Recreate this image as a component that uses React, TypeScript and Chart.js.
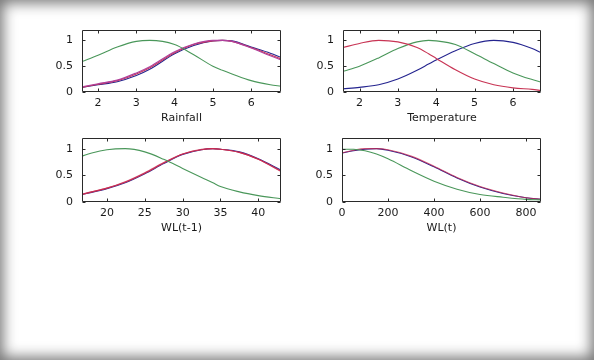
import React, { useEffect, useRef } from "react";
import { Chart, registerables } from "chart.js";

Chart.register(...registerables);

// ---------- data ----------
const rainX = [1.58, 2, 2.5, 3, 3.35, 4, 4.5, 5, 5.25, 5.5, 6, 6.5, 6.78];
const rainGreen = [0.59, 0.71, 0.87, 0.98, 1.0, 0.92, 0.72, 0.5, 0.42, 0.35, 0.22, 0.14, 0.11];
const rainBlue = [0.09, 0.14, 0.2, 0.32, 0.44, 0.74, 0.9, 0.99, 1.0, 0.99, 0.87, 0.75, 0.67];
const rainRed = [0.09, 0.15, 0.22, 0.35, 0.47, 0.76, 0.92, 0.99, 1.0, 0.98, 0.86, 0.72, 0.64];
const rainMagenta = [0.1, 0.16, 0.23, 0.37, 0.49, 0.78, 0.93, 1.0, 1.0, 0.98, 0.85, 0.7, 0.62];

const tempX = [1.57, 2, 2.5, 3, 3.5, 3.8, 4, 4.5, 5, 5.5, 6, 6.5, 6.73];
const tempRed = [0.86, 0.94, 1.0, 0.97, 0.86, 0.74, 0.65, 0.43, 0.25, 0.14, 0.08, 0.05, 0.03];
const tempGreen = [0.4, 0.5, 0.66, 0.84, 0.97, 1.0, 0.99, 0.92, 0.74, 0.55, 0.37, 0.24, 0.19];
const tempBlue = [0.06, 0.09, 0.14, 0.25, 0.42, 0.54, 0.62, 0.8, 0.94, 1.0, 0.96, 0.84, 0.76];

const wlPrevX = [16.7, 18, 20, 22.4, 25, 27.5, 30, 32.5, 34, 35, 37.5, 40, 43];
const wlPrevGreen = [0.86, 0.92, 0.98, 1.0, 0.94, 0.8, 0.63, 0.46, 0.36, 0.29, 0.19, 0.12, 0.06];
const wlPrevBlue = [0.14, 0.18, 0.25, 0.36, 0.53, 0.72, 0.89, 0.98, 1.0, 0.99, 0.94, 0.81, 0.6];
const wlPrevRed = [0.14, 0.19, 0.26, 0.37, 0.54, 0.73, 0.9, 0.98, 1.0, 0.99, 0.93, 0.8, 0.58];
const wlPrevMagenta = [0.15, 0.19, 0.26, 0.38, 0.55, 0.74, 0.9, 0.99, 1.0, 0.99, 0.93, 0.8, 0.57];

const wlX = [0, 50, 100, 150, 200, 300, 400, 500, 600, 700, 800, 865];
const wlGreen = [0.99, 0.99, 0.96, 0.9, 0.81, 0.59, 0.39, 0.24, 0.14, 0.09, 0.05, 0.04];
const wlBlue = [0.92, 0.96, 0.99, 1.0, 0.97, 0.85, 0.66, 0.45, 0.28, 0.16, 0.08, 0.05];
const wlRed = [0.92, 0.97, 1.0, 1.0, 0.98, 0.86, 0.67, 0.46, 0.29, 0.17, 0.08, 0.05];

const yTicks = [0, 0.5, 1];
const rainTicks = [2, 3, 4, 5, 6];
const tempTicks = [2, 3, 4, 5, 6];
const wlPrevTicks = [20, 25, 30, 35, 40];
const wlTicks = [0, 200, 400, 600, 800];

// ---------- styles ----------
const GREEN = "#4a975a";
const BLUE = "#24248f";
const RED = "#c83454";
const MAGENTA = "#b0409c";
const PURPLE_RED = "rgba(200,40,80,0.75)";
const FONT = '"DejaVu Sans", Verdana, sans-serif';

type Series = { color: string; y: number[] };
type Panel = {
  title: string;
  xs: number[];
  series: Series[];
  xMin: number;
  xMax: number;
  ticks: number[];
  left: number;
  top: number;
  w: number;
  h: number;
};

const panels: Panel[] = [
  {
    title: "Rainfall",
    xs: rainX,
    series: [
      { color: GREEN, y: rainGreen },
      { color: MAGENTA, y: rainMagenta },
      { color: RED, y: rainRed },
      { color: BLUE, y: rainBlue },
    ],
    xMin: 1.58,
    xMax: 6.78,
    ticks: rainTicks,
    left: 82,
    top: 30,
    w: 199,
    h: 62,
  },
  {
    title: "Temperature",
    xs: tempX,
    series: [
      { color: RED, y: tempRed },
      { color: GREEN, y: tempGreen },
      { color: BLUE, y: tempBlue },
    ],
    xMin: 1.57,
    xMax: 6.73,
    ticks: tempTicks,
    left: 343,
    top: 30,
    w: 198,
    h: 62,
  },
  {
    title: "WL(t-1)",
    xs: wlPrevX,
    series: [
      { color: GREEN, y: wlPrevGreen },
      { color: PURPLE_RED, y: wlPrevMagenta },
      { color: RED, y: wlPrevRed },
      { color: BLUE, y: wlPrevBlue },
    ],
    xMin: 16.7,
    xMax: 43,
    ticks: wlPrevTicks,
    left: 82,
    top: 138,
    w: 199,
    h: 64,
  },
  {
    title: "WL(t)",
    xs: wlX,
    series: [
      { color: GREEN, y: wlGreen },
      { color: PURPLE_RED, y: wlRed },
      { color: BLUE, y: wlBlue },
    ],
    xMin: 0,
    xMax: 865,
    ticks: wlTicks,
    left: 342,
    top: 138,
    w: 199,
    h: 64,
  },
];

const PAD_TOP = 16;
const PAD_RIGHT = 10;
const Y_W = 40;
const X_H = 33;

const framePlugin = {
  id: "mfFrame",
  afterDraw(chart: any) {
    const { ctx, chartArea: a, scales } = chart;
    const xs = scales.x;
    const ys = scales.y;
    ctx.save();
    ctx.strokeStyle = "#2a2a2a";
    ctx.lineWidth = 1;
    const l = Math.round(a.left) + 0.5;
    const r = Math.round(a.right) - 0.5;
    const t = Math.round(a.top) + 0.5;
    const b = Math.round(a.bottom) - 0.5;
    ctx.beginPath();
    ctx.rect(l, t, r - l, b - t);
    xs.ticks.forEach((tk: any) => {
      const px = Math.round(xs.getPixelForValue(tk.value)) + 0.5;
      ctx.moveTo(px, b);
      ctx.lineTo(px, b - 3);
      ctx.moveTo(px, t);
      ctx.lineTo(px, t + 3);
    });
    ys.ticks.forEach((tk: any) => {
      const py = Math.round(ys.getPixelForValue(tk.value)) + 0.5;
      ctx.moveTo(l, py);
      ctx.lineTo(l + 3, py);
      ctx.moveTo(r, py);
      ctx.lineTo(r - 3, py);
    });
    ctx.stroke();
    ctx.restore();
  },
};

function MFChart({ panel }: { panel: Panel }) {
  const ref = useRef<HTMLCanvasElement | null>(null);
  const cw = panel.w + Y_W + PAD_RIGHT;
  const ch = panel.h + PAD_TOP + X_H;

  useEffect(() => {
    if (!ref.current) return;
    const datasets = panel.series.map((s) => ({
      data: panel.xs.map((x, i) => ({ x, y: s.y[i] })),
      borderColor: s.color,
      borderWidth: 1.1,
      pointRadius: 0,
      fill: false,
      cubicInterpolationMode: "monotone" as const,
    }));
    const chart = new Chart(ref.current, {
      type: "line",
      data: { datasets },
      options: {
        animation: false,
        responsive: false,
        devicePixelRatio: 1,
        layout: { padding: { top: PAD_TOP, right: PAD_RIGHT, left: 0, bottom: 0 } },
        plugins: { legend: { display: false }, tooltip: { enabled: false } },
        scales: {
          x: {
            type: "linear",
            min: panel.xMin,
            max: panel.xMax,
            afterFit: (s: any) => {
              s.height = X_H;
            },
            afterBuildTicks: (s: any) => {
              s.ticks = panel.ticks.map((v) => ({ value: v }));
            },
            grid: { display: false, drawTicks: false },
            border: { display: false },
            ticks: {
              padding: 5,
              color: "#1a1a1a",
              font: { family: FONT, size: 11 },
              maxRotation: 0,
              autoSkip: false,
            },
            title: {
              display: true,
              text: panel.title,
              color: "#1a1a1a",
              font: { family: FONT, size: 11 },
              padding: { top: 0, bottom: 0 },
            },
          },
          y: {
            type: "linear",
            min: 0,
            max: 1.2,
            afterFit: (s: any) => {
              s.width = Y_W;
            },
            afterBuildTicks: (s: any) => {
              s.ticks = yTicks.map((v) => ({ value: v }));
            },
            grid: { display: false, drawTicks: false },
            border: { display: false },
            ticks: {
              padding: 9,
              color: "#1a1a1a",
              font: { family: FONT, size: 11 },
              callback: (v: any) => String(v),
            },
          },
        },
      },
      plugins: [framePlugin],
    });
    return () => chart.destroy();
  }, [panel]);

  return (
    <canvas
      ref={ref}
      width={cw}
      height={ch}
      style={{
        position: "absolute",
        left: panel.left - Y_W,
        top: panel.top - PAD_TOP,
        width: cw,
        height: ch,
      }}
    />
  );
}

export default function App() {
  return (
    <div
      style={{
        position: "fixed",
        left: 0,
        top: 0,
        width: 594,
        height: 360,
        background: "#ffffff",
        boxShadow: "inset 0 0 14px 3px rgba(0,0,0,0.55)",
        overflow: "hidden",
      }}
    >
      {panels.map((p) => (
        <MFChart key={p.title} panel={p} />
      ))}
    </div>
  );
}
